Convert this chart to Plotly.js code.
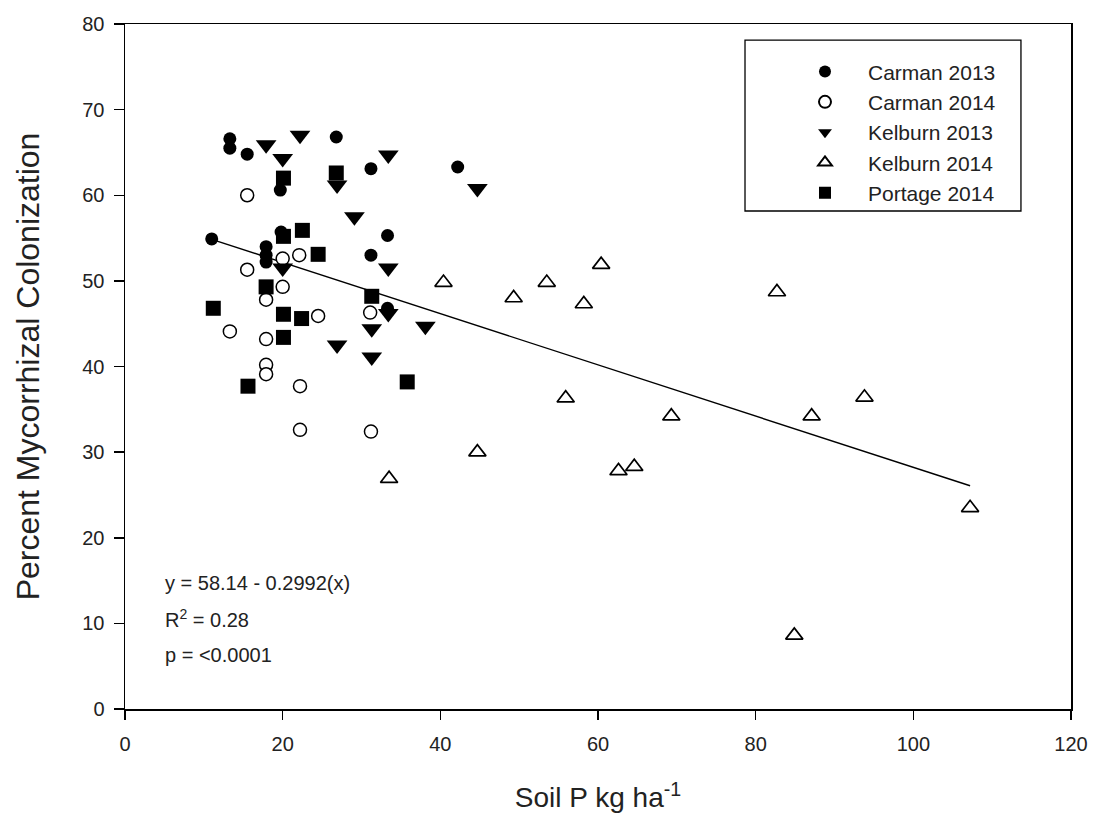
<!DOCTYPE html>
<html>
<head>
<meta charset="utf-8">
<script src="https://cdn.plot.ly/plotly-3.0.1.min.js"></script>
<style>
  html, body { margin: 0; padding: 0; background: #fff; }
  #chart { width: 1093px; height: 823px; }
</style>
</head>
<body>
<div id="chart"></div>
<script>
// ---- data ----
const carman2013X = [11.0, 13.3, 13.3, 15.5, 26.8, 31.2, 42.2, 19.7, 17.9, 17.9, 17.9, 19.8, 33.3, 31.2, 33.3];
const carman2013Y = [54.9, 66.6, 65.5, 64.8, 66.8, 63.1, 63.3, 60.6, 54.0, 53.0, 52.2, 55.7, 55.3, 53.0, 46.8];

const carman2014X = [15.5, 15.5, 20.0, 22.1, 20.0, 17.9, 24.5, 13.3, 17.9, 17.9, 17.9, 22.2, 22.2, 31.2, 31.1];
const carman2014Y = [60.0, 51.3, 52.6, 53.0, 49.3, 47.8, 45.9, 44.1, 43.2, 40.2, 39.1, 37.7, 32.6, 32.4, 46.3];

const kelburn2013X = [17.9, 20.0, 22.2, 26.9, 33.4, 44.7, 29.1, 33.4, 20.0, 33.4, 31.3, 38.1, 26.9, 31.3];
const kelburn2013Y = [65.9, 64.3, 67.0, 61.2, 64.7, 60.8, 57.5, 51.5, 51.5, 46.2, 44.4, 44.7, 42.5, 41.1];

const kelburn2014X = [40.4, 49.3, 53.5, 58.2, 60.4, 55.9, 69.3, 62.6, 64.6, 44.7, 33.5, 82.7, 87.1, 93.8, 107.2, 84.9];
const kelburn2014Y = [49.8, 48.0, 49.8, 47.3, 51.9, 36.3, 34.2, 27.8, 28.3, 30.0, 26.9, 48.7, 34.2, 36.4, 23.5, 8.6];

const portage2014X = [20.1, 26.8, 20.1, 22.5, 24.5, 17.9, 31.3, 11.2, 20.1, 22.4, 20.1, 15.6, 35.8];
const portage2014Y = [62.0, 62.6, 55.2, 55.9, 53.1, 49.3, 48.2, 46.8, 46.1, 45.6, 43.4, 37.7, 38.2];

// regression line endpoints (y = 58.14 - 0.2992x over the data range)
const fitX = [11.0, 107.2];
const fitY = [54.85, 26.07];

const xTicks = [0, 20, 40, 60, 80, 100, 120];
const yTicks = [0, 10, 20, 30, 40, 50, 60, 70, 80];

const statLines = ["y = 58.14 - 0.2992(x)", "R<sup>2</sup> = 0.28", "p = <0.0001"];

// ---- chart ----
const FONT = "Liberation Sans, Arial, sans-serif";
const black = "#000";
const textCol = "#222";

const traces = [
  {
    x: fitX, y: fitY, mode: "lines", type: "scatter",
    line: { color: black, width: 1.4 }, showlegend: false, hoverinfo: "skip"
  },
  {
    name: "Carman 2013", x: carman2013X, y: carman2013Y, mode: "markers", type: "scatter",
    legendgroup: "a",
    marker: { symbol: "circle", size: 13, color: black, line: { width: 0 } }
  },
  {
    name: "Carman 2014", x: carman2014X, y: carman2014Y, mode: "markers", type: "scatter",
    legendgroup: "b",
    marker: { symbol: "circle", size: 13, color: "#fff", line: { color: black, width: 1.5 } }
  },
  {
    name: "Kelburn 2013", x: kelburn2013X, y: kelburn2013Y, mode: "markers", type: "scatter",
    legendgroup: "c",
    marker: { symbol: "triangle-down", size: 18, color: black, line: { width: 0 } }
  },
  {
    name: "Kelburn 2014", x: kelburn2014X, y: kelburn2014Y, mode: "markers", type: "scatter",
    legendgroup: "d",
    marker: { symbol: "triangle-up", size: 15, color: "#fff", line: { color: black, width: 1.7 } }
  },
  {
    name: "Portage 2014", x: portage2014X, y: portage2014Y, mode: "markers", type: "scatter",
    legendgroup: "e",
    marker: { symbol: "square", size: 15, color: black, line: { width: 0 } }
  }
];

const annotations = statLines.map((t, i) => ({
  xref: "paper", yref: "paper",
  x: 0.04, y: 0.184 - i * 0.0525,
  xanchor: "left", yanchor: "middle",
  text: t, showarrow: false,
  font: { family: FONT, size: 20, color: textCol }
}));

const layout = {
  width: 1093, height: 823,
  margin: { l: 125, r: 22, t: 24, b: 114 },
  paper_bgcolor: "#fff", plot_bgcolor: "#fff",
  font: { family: FONT, color: textCol },
  xaxis: {
    range: [0, 120], tickvals: xTicks, ticktext: xTicks.map(String),
    showgrid: false, zeroline: false,
    showline: true, linecolor: black, linewidth: 1.5, mirror: true,
    ticks: "outside", ticklen: 9, tickwidth: 1.5, tickcolor: black,
    ticklabelstandoff: 7,
    tickfont: { family: FONT, size: 20, color: textCol },
    title: { text: "Soil P kg ha<sup>-1</sup>", font: { family: FONT, size: 28, color: textCol }, standoff: 34 }
  },
  yaxis: {
    range: [0, 80], tickvals: yTicks, ticktext: yTicks.map(String),
    showgrid: false, zeroline: false,
    showline: true, linecolor: black, linewidth: 1.5, mirror: true,
    ticks: "outside", ticklen: 10, tickwidth: 1.5, tickcolor: black,
    ticklabelstandoff: 5,
    tickfont: { family: FONT, size: 20, color: textCol },
    title: { text: "Percent Mycorrhizal Colonization", font: { family: FONT, size: 32, color: textCol }, standoff: 33 }
  },
  showlegend: true,
  legend: {
    x: 0.6945, y: 0.96, xanchor: "left", yanchor: "top",
    bgcolor: "rgba(0,0,0,0)", borderwidth: 0,
    font: { family: FONT, size: 21, color: textCol },
    tracegroupgap: 0, itemsizing: "constant", itemwidth: 76
  },
  shapes: [
    {
      type: "rect", xref: "paper", yref: "paper",
      x0: 0.6554, x1: 0.9471, y0: 0.727, y1: 0.9766,
      line: { color: black, width: 1.3 }, fillcolor: "rgba(0,0,0,0)", layer: "below"
    }
  ],
  annotations: annotations
};

Plotly.newPlot("chart", traces, layout, { displayModeBar: false, staticPlot: true });
</script>
</body>
</html>
